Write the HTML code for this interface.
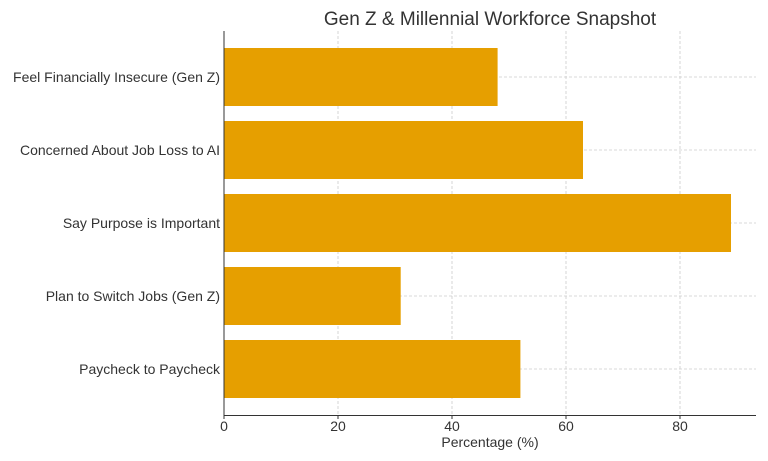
<!DOCTYPE html>
<html><head><style>body{margin:0;background:#fff}svg{display:block}text{font-family:"Liberation Sans","DejaVu Sans",sans-serif;fill:#333}</style></head>
<body>
<svg width="768" height="461" xmlns="http://www.w3.org/2000/svg">
<g stroke="#ccc" stroke-width="0.8" stroke-dasharray="3,2">
<line x1="338" y1="31" x2="338" y2="415"/><line x1="452" y1="31" x2="452" y2="415"/><line x1="566" y1="31" x2="566" y2="415"/><line x1="680" y1="31" x2="680" y2="415"/>
<line x1="224" y1="77" x2="756" y2="77"/><line x1="224" y1="150" x2="756" y2="150"/><line x1="224" y1="223" x2="756" y2="223"/><line x1="224" y1="296" x2="756" y2="296"/><line x1="224" y1="369" x2="756" y2="369"/>
</g>
<g fill="#E69F00">
<rect x="224" y="48" width="273.6" height="58"/>
<rect x="224" y="121" width="359" height="58"/>
<rect x="224" y="194" width="507" height="58"/>
<rect x="224" y="267" width="176.7" height="58"/>
<rect x="224" y="340" width="296.4" height="58"/>
</g>
<g stroke="#333" stroke-width="1">
<line x1="224" y1="31" x2="224" y2="415.5"/><line x1="223.5" y1="415.5" x2="756" y2="415.5"/>
<line x1="224" y1="415" x2="224" y2="419"/><line x1="338" y1="415" x2="338" y2="419"/><line x1="452" y1="415" x2="452" y2="419"/><line x1="566" y1="415" x2="566" y2="419"/><line x1="680" y1="415" x2="680" y2="419"/>
</g>
<g font-size="14" text-anchor="middle">
<text x="224" y="431">0</text><text x="338" y="431">20</text><text x="452" y="431">40</text><text x="566" y="431">60</text><text x="680" y="431">80</text>
<text x="490" y="447">Percentage (%)</text>
</g>
<g font-size="14" text-anchor="end">
<text x="220" y="82">Feel Financially Insecure (Gen Z)</text>
<text x="220" y="155">Concerned About Job Loss to AI</text>
<text x="220" y="228">Say Purpose is Important</text>
<text x="220" y="301">Plan to Switch Jobs (Gen Z)</text>
<text x="220" y="374">Paycheck to Paycheck</text>
</g>
<text x="490" y="25" font-size="19" text-anchor="middle">Gen Z &amp; Millennial Workforce Snapshot</text>
</svg>
</body></html>
